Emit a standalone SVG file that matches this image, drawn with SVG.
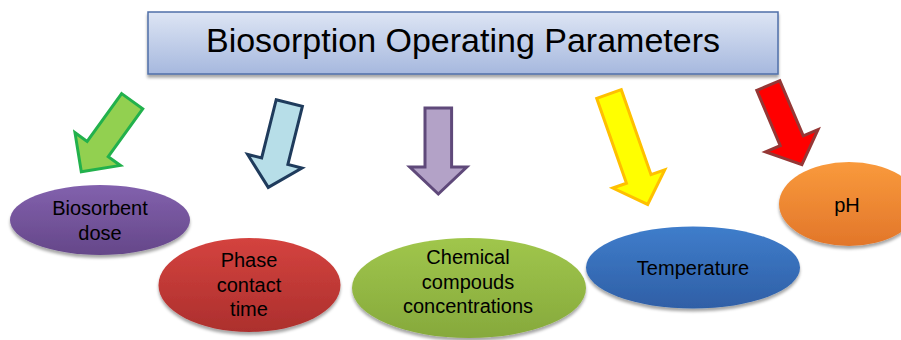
<svg xmlns="http://www.w3.org/2000/svg" width="901" height="340" viewBox="0 0 901 340">
<style>
text{font-family:"Liberation Sans",Arial,sans-serif;fill:#000;text-anchor:middle}
.t{font-size:34px}
.n{font-size:20px}
.arr{stroke-width:3;stroke-linejoin:miter}
</style>
<defs>
<filter id="sh" x="-20%" y="-20%" width="140%" height="150%">
<feDropShadow dx="0" dy="3" stdDeviation="1.5" flood-color="#000" flood-opacity="0.35"/>
</filter>
<linearGradient id="gT" x1="0" y1="0" x2="0" y2="1"><stop offset="0" stop-color="#dde5f4"/><stop offset="1" stop-color="#a6b8de"/></linearGradient>
<linearGradient id="gP" x1="0" y1="0" x2="0" y2="1"><stop offset="0" stop-color="#8261ad"/><stop offset="1" stop-color="#654789"/></linearGradient>
<linearGradient id="gR" x1="0" y1="0" x2="0" y2="1"><stop offset="0" stop-color="#d4433f"/><stop offset="1" stop-color="#ac2f2d"/></linearGradient>
<linearGradient id="gG" x1="0" y1="0" x2="0" y2="1"><stop offset="0" stop-color="#a0c64c"/><stop offset="1" stop-color="#86a93c"/></linearGradient>
<linearGradient id="gB" x1="0" y1="0" x2="0" y2="1"><stop offset="0" stop-color="#3f7dcb"/><stop offset="1" stop-color="#2f5fa6"/></linearGradient>
<linearGradient id="gO" x1="0" y1="0" x2="0" y2="1"><stop offset="0" stop-color="#f99a3c"/><stop offset="1" stop-color="#e2762a"/></linearGradient>
</defs>

<g id="title">
<rect x="148" y="12" width="630" height="62" fill="url(#gT)" stroke="#4f6fa8" stroke-width="1.5" filter="url(#sh)"/>
<text class="t" x="463" y="52">Biosorption Operating Parameters</text>
</g>

<g id="connectors">
<polygon class="arr" fill="#92d050" stroke="#22b14c" transform="translate(132.2,101.2) rotate(35.8)" points="-13,0 13,0 13,59 28,59 0,87 -28,59 -13,59"/>
<polygon class="arr" fill="#b7dee8" stroke="#1f3b5c" transform="translate(289.3,103) rotate(14)" points="-13.5,0 13.5,0 13.5,60 28,60 0,87 -28,60 -13.5,60"/>
<polygon class="arr" fill="#b3a2c7" stroke="#5f497a" transform="translate(438.3,108) rotate(0)" points="-13.3,0 13.3,0 13.3,59 28.5,59 0,86 -28.5,59 -13.3,59"/>
<polygon class="arr" fill="#ffff00" stroke="#ffc000" transform="translate(609,94) rotate(-19.3)" points="-13,0 13,0 13,90 27.5,90 0,117 -27.5,90 -13,90"/>
<polygon class="arr" fill="#ff0000" stroke="#953735" transform="translate(768.3,85.5) rotate(-23)" points="-12.5,0 12.5,0 12.5,60 28.5,60 0,86 -28.5,60 -12.5,60"/>
</g>

<g id="biosorbent-dose">
<ellipse cx="100" cy="220" rx="90" ry="35" fill="url(#gP)" filter="url(#sh)"/>
<text class="n" x="100" y="215">Biosorbent</text>
<text class="n" x="100" y="240">dose</text>
</g>

<g id="phase-contact-time">
<ellipse cx="249.5" cy="285" rx="91" ry="47" fill="url(#gR)" filter="url(#sh)"/>
<text class="n" x="249" y="267">Phase</text>
<text class="n" x="249" y="292">contact</text>
<text class="n" x="249" y="316">time</text>
</g>

<g id="chemical-compounds">
<ellipse cx="469" cy="288" rx="117" ry="50" fill="url(#gG)" filter="url(#sh)"/>
<text class="n" x="468" y="264">Chemical</text>
<text class="n" x="468" y="289">compouds</text>
<text class="n" x="468" y="313">concentrations</text>
</g>

<g id="temperature">
<ellipse cx="693" cy="267.5" rx="107" ry="41" fill="url(#gB)" filter="url(#sh)"/>
<text class="n" x="693" y="275">Temperature</text>
</g>

<g id="ph">
<ellipse cx="849" cy="204" rx="70" ry="42" fill="url(#gO)" filter="url(#sh)"/>
<text class="n" x="847" y="212">pH</text>
</g>
</svg>
